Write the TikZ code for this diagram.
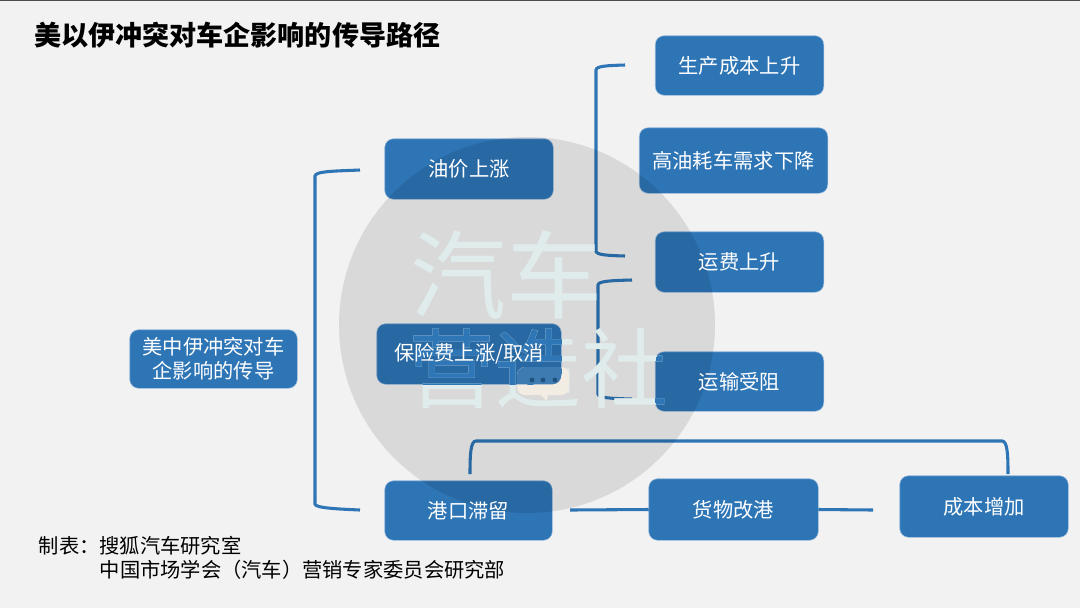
\documentclass[tikz,border=0pt]{standalone}
\usepackage{fontspec}
\setmainfont{Noto Sans CJK SC}
\pgfdeclarelayer{under}
\pgfsetlayers{under,main}
\definecolor{pagebg}{HTML}{F2F2F2}
\definecolor{boxblue}{HTML}{2E75B6}
\definecolor{boxedge}{HTML}{A9C6E3}
\definecolor{wmlight}{HTML}{E0ECEC}
\definecolor{wmblue}{HTML}{2E76B6}
\definecolor{bubblelight}{HTML}{F3ECE2}
\definecolor{bubbleblue}{HTML}{3E7BB0}
\tikzset{
  x=0.75pt,y=-0.75pt,
  boxlabel/.style 2 args={inner sep=0pt,text=white,align=center,
    minimum width=#1*0.75pt,minimum height=#2*0.75pt,
    font=\fontsize{15.2}{18}\selectfont},
  boxfill/.style={fill=boxblue,draw=boxedge,line width=0.4pt,rounded corners=6.5pt},
  wire/.style={draw=boxblue,line width=2.3pt},
  wmtext/.style={inner sep=0pt},
  plain/.style={inner sep=0pt,anchor=west,font=\fontsize{15.2}{18}\selectfont},
}
\newcommand{\watermark}[3]{%
  \node[wmtext,text=#1,font=\fontsize{72}{72}\selectfont] (wma#3) at (506,275) {汽车};
  \node[wmtext,text=#1,font=\fontsize{65}{65}\selectfont] (wmb#3) at (538,369) {营造社};
  \fill[#2,rounded corners=6pt] (517,367) rectangle (569,395);
  \fill[#2] (540,394) -- (547,401) -- (548,394) -- cycle;
}
\begin{document}
\begin{tikzpicture}
\useasboundingbox (0,0) rectangle (1080,608);
% labelled boxes (text stays on top of the watermark)
\node[boxlabel={168}{59}] (prod) at (739.5,65.5) {生产成本上升};
\node[boxlabel={188}{65}] (fuel) at (733.5,160.5) {高油耗车需求下降};
\node[boxlabel={168}{60}] (freight) at (739.5,262) {运费上升};
\node[boxlabel={168}{59}] (trans) at (739.5,381.5) {运输受阻};
\node[boxlabel={168}{60}] (oil) at (469,169) {油价上涨};
\node[boxlabel={184}{60}] (ins) at (469,354) {保险费上涨/取消};
\node[boxlabel={167}{59}] (port) at (468.5,510.5) {港口滞留};
\node[boxlabel={169}{61}] (goods) at (733.5,509.5) {货物改港};
\node[boxlabel={168}{61}] (cost) at (984,506.5) {成本增加};
\node[boxlabel={167}{58}] (root) at (213.5,359) {美中伊冲突对车\\企影响的传导};
\node[plain,font=\fontsize{20.3}{24}\bfseries\selectfont] (title) at (34,35.5) {美以伊冲突对车企影响的传导路径};
\node[plain] (credit) at (38.5,546) {制表：搜狐汽车研究室};
\node[plain] (credittwo) at (99.5,570) {中国市场学会（汽车）营销专家委员会研究部};
% free ends of the brackets
\coordinate (la) at (360,170);
\coordinate (lb) at (360,510);
\coordinate (ua) at (625,65);
\coordinate (ub) at (625,256);
\coordinate (da) at (632,280);
\coordinate (db) at (632,399);
\coordinate (ta) at (470,474);
\coordinate (tb) at (1008,474);
\coordinate (ma) at (570,510);
\coordinate (mb) at (873,510);
\begin{pgfonlayer}{under}
\fill[pagebg] (0,0) rectangle (1080,608);
\fill[black!70] (0,0) rectangle (1080,1.2);
\foreach \n in {prod,fuel,freight,trans,oil,ins,port,goods,cost,root}
  \draw[boxfill] (\n.south west) rectangle (\n.north east);
\draw[wire] (la) .. controls (338,171) and (315,171) .. (315,176) -- (315,504) .. controls (315,508) and (338,509) .. (lb);
\draw[wire] (ua) .. controls (608,65.5) and (596,66) .. (596,70) -- (596,251) .. controls (596,255) and (608,255.5) .. (ub);
\draw[wire] (da) .. controls (612,280.5) and (598,281) .. (598,285) -- (598,394) .. controls (598,398) and (612,398.5) .. (db);
\draw[wire] (ta) .. controls (470,455) and (470.5,441) .. (476,441) -- (1002,441) .. controls (1007.5,441) and (1008,455) .. (tb);
\draw[wire] (ma) -- (goods.west);
\draw[wire] (goods.east) -- (mb);
\fill[black,opacity=0.1] (527,325) circle[radius=188];
\watermark{wmlight}{bubblelight}{x}
\foreach \n in {oil,ins,freight,trans,port}{
  \begin{scope}
    \clip[rounded corners=6.5pt] (\n.south west) rectangle (\n.north east);
    \watermark{wmblue}{bubbleblue}{\n}
    \fill[boxblue!70!black] (532,380) circle[radius=2.4] (543,380) circle[radius=2.4] (555,380) circle[radius=2.4];
  \end{scope}
}
\end{pgfonlayer}
\end{tikzpicture}
\end{document}
